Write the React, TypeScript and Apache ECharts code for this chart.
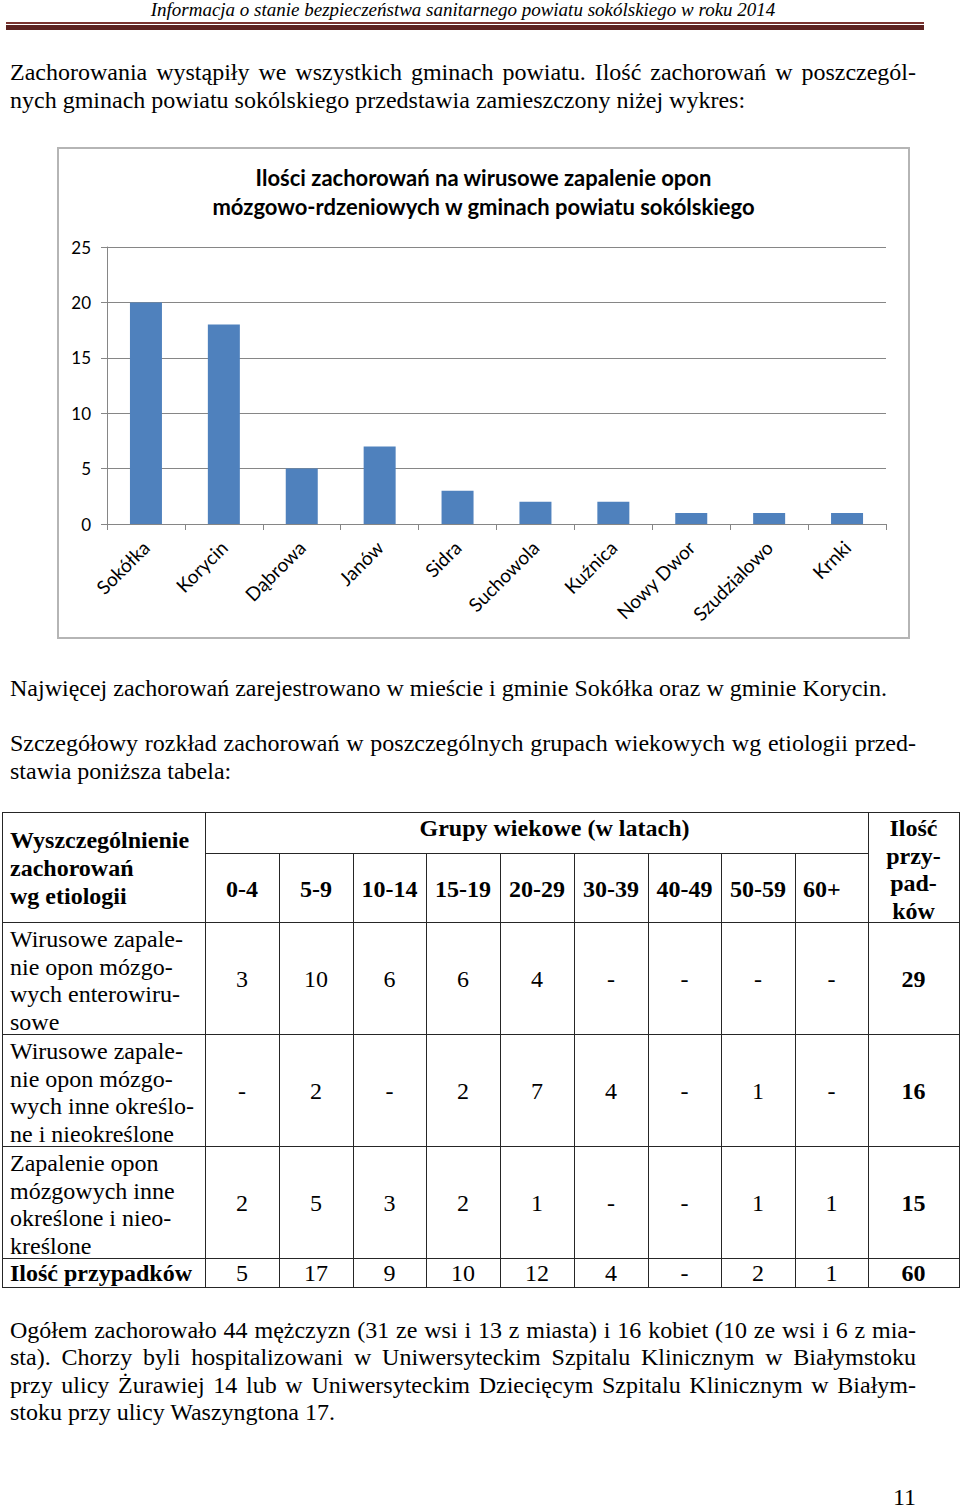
import React, { useEffect, useRef } from "react";
import * as echarts from "echarts";

// ---------- data ----------
const headerTitle = "Informacja o stanie bezpieczeństwa sanitarnego powiatu sokólskiego w roku 2014";

const chartTitleLines = [
  "Ilości zachorowań na wirusowe zapalenie opon",
  "mózgowo-rdzeniowych w gminach powiatu sokólskiego",
];
const communes = ["Sokółka", "Korycin", "Dąbrowa", "Janów", "Sidra", "Suchowola", "Kuźnica", "Nowy Dwor", "Szudzialowo", "Krnki"];
const caseCounts = [20, 18, 5, 7, 3, 2, 2, 1, 1, 1];
const yMin = 0;
const yMax = 25;
const yStep = 5;

const introLines = [
  "Zachorowania wystąpiły we wszystkich gminach powiatu. Ilość zachorowań w poszczegól-",
  "nych gminach powiatu sokólskiego przedstawia zamieszczony niżej wykres:",
];
const afterChartLine = "Najwięcej zachorowań zarejestrowano w mieście i gminie Sokółka oraz w gminie Korycin.";
const tableIntroLines = [
  "Szczegółowy rozkład zachorowań  w poszczególnych grupach wiekowych wg etiologii przed-",
  "stawia poniższa tabela:",
];
const closingLines = [
  "Ogółem zachorowało 44 mężczyzn (31 ze wsi i 13 z miasta) i 16 kobiet (10 ze wsi i 6 z mia-",
  "sta). Chorzy byli hospitalizowani w Uniwersyteckim Szpitalu Klinicznym w Białymstoku",
  "przy ulicy Żurawiej 14 lub w Uniwersyteckim Dziecięcym Szpitalu Klinicznym w Białym-",
  "stoku przy ulicy Waszyngtona 17.",
];
const pageNumber = "11";

const tableCornerLines = ["Wyszczególnienie", "zachorowań", "wg etiologii"];
const tableGroupHeader = "Grupy wiekowe (w latach)";
const tableTotalHeaderLines = ["Ilość", "przy-", "pad-", "ków"];
const ageGroups = ["0-4", "5-9", "10-14", "15-19", "20-29", "30-39", "40-49", "50-59", "60+"];
const etiologyLabels = [
  ["Wirusowe zapale-", "nie opon mózgo-", "wych enterowiru-", "sowe"],
  ["Wirusowe zapale-", "nie opon mózgo-", "wych inne określo-", "ne i nieokreślone"],
  ["Zapalenie opon", "mózgowych inne", "określone i nieo-", "kreślone"],
];
const enteroviralCases = ["3", "10", "6", "6", "4", "-", "-", "-", "-"];
const otherViralCases = ["-", "2", "-", "2", "7", "4", "-", "1", "-"];
const otherMeningitisCases = ["2", "5", "3", "2", "1", "-", "-", "1", "1"];
const rowTotals = ["29", "16", "15"];
const totalsLabel = "Ilość przypadków";
const columnTotals = ["5", "17", "9", "10", "12", "4", "-", "2", "1"];
const grandTotal = "60";

// ---------- layout ----------
const SERIF = '"Liberation Serif", "Times New Roman", serif';
const FS = 24;
const LINE = "#262626";
const colX = [2, 205, 279, 353, 426, 500, 574, 648, 721, 795, 868, 959];
const rowY = { top: 812, sub: 853, head: 922, r1: 1034, r2: 1146, r3: 1258, bottom: 1287 };

function TextLine(props: { y: number; text: string; justify?: boolean; x?: number; width?: number; size?: number; bold?: boolean }) {
  const { y, text, justify, x = 10, width = 906, size = FS, bold } = props;
  return (
    <div
      style={{
        position: "absolute",
        left: x,
        top: y - 14,
        width,
        height: 28,
        lineHeight: "28px",
        fontFamily: SERIF,
        fontSize: size,
        fontWeight: bold ? "bold" : "normal",
        color: "#000",
        textAlign: justify ? "justify" : "left",
        textAlignLast: justify ? "justify" : "auto",
        whiteSpace: justify ? "normal" : "nowrap",
        overflow: "visible",
      } as any}
    >
      {text}
    </div>
  );
}

function CellText(props: { x0: number; x1: number; y: number; text: string; bold?: boolean; align?: string; dx?: number }) {
  const { x0, x1, y, text, bold, align = "center", dx = 0 } = props;
  return (
    <div
      style={{
        position: "absolute",
        left: (align === "left" ? x0 + 8 : x0) + dx,
        top: y - 14,
        width: align === "left" ? x1 - x0 - 8 : x1 - x0,
        height: 28,
        lineHeight: "28px",
        fontFamily: SERIF,
        fontSize: FS,
        fontWeight: bold ? "bold" : "normal",
        textAlign: align as any,
        whiteSpace: "nowrap",
        color: "#000",
      }}
    >
      {text}
    </div>
  );
}

function HLine(props: { x0: number; x1: number; y: number }) {
  return <div style={{ position: "absolute", left: props.x0, top: props.y, width: props.x1 - props.x0 + 1, height: 1, background: LINE }} />;
}
function VLine(props: { x: number; y0: number; y1: number }) {
  return <div style={{ position: "absolute", left: props.x, top: props.y0, width: 1, height: props.y1 - props.y0 + 1, background: LINE }} />;
}

function Chart() {
  const ref = useRef<HTMLDivElement>(null);
  useEffect(() => {
    if (!ref.current) return;
    const chart = echarts.init(ref.current, undefined, { renderer: "svg" });
    const axisGrey = "#868686";
    chart.setOption({
      animation: false,
      backgroundColor: "#ffffff",
      title: {
        text: chartTitleLines.join("\n"),
        left: "center",
        top: 16,
        padding: 0,
        textStyle: { fontFamily: "Lato", fontWeight: "bold", fontSize: 22, lineHeight: 29, color: "#000" },
      },
      grid: { left: 50, right: 24, top: 100, bottom: 115 },
      xAxis: {
        type: "category",
        data: communes,
        axisLine: { show: true, lineStyle: { color: axisGrey, width: 1 } },
        axisTick: { show: true, length: 6, interval: 0, alignWithLabel: false, lineStyle: { color: axisGrey } },
        axisLabel: {
          interval: 0,
          rotate: 45,
          margin: 20,
          fontFamily: "Lato",
          fontSize: 19,
          color: "#000",
        },
        splitLine: { show: false },
      },
      yAxis: {
        type: "value",
        min: yMin,
        max: yMax,
        interval: yStep,
        axisLine: { show: true, lineStyle: { color: axisGrey, width: 1 } },
        axisTick: { show: true, length: 6, lineStyle: { color: axisGrey } },
        axisLabel: { margin: 16, fontFamily: "Lato", fontSize: 17, color: "#000" },
        splitLine: { show: true, lineStyle: { color: axisGrey, width: 1 } },
      },
      series: [
        {
          type: "bar",
          data: caseCounts,
          barWidth: 32,
          itemStyle: { color: "#4f81bd" },
        },
      ],
      graphic: [
        {
          type: "rect",
          shape: { x: 1, y: 1, width: 851, height: 490 },
          style: { fill: "none", stroke: "#b5b5b5", lineWidth: 2 },
          silent: true,
        },
      ],
    });
    return () => chart.dispose();
  }, []);
  return <div ref={ref} style={{ position: "absolute", left: 57, top: 147, width: 853, height: 492 }} />;
}

export default function App() {
  const dataRows = [enteroviralCases, otherViralCases, otherMeningitisCases];
  const rowBounds = [
    [rowY.head, rowY.r1],
    [rowY.r1, rowY.r2],
    [rowY.r2, rowY.r3],
  ];
  return (
    <div style={{ position: "absolute", left: 0, top: 0, width: 960, height: 1509, background: "#fff", overflow: "hidden" }}>
      {/* page header */}
      <div
        style={{
          position: "absolute",
          left: 0,
          top: 0,
          width: 926,
          textAlign: "center",
          fontFamily: SERIF,
          fontStyle: "italic",
          fontSize: 19,
          lineHeight: "20px",
          color: "#000",
          whiteSpace: "nowrap",
        }}
      >
        {headerTitle}
      </div>
      <div style={{ position: "absolute", left: 6, top: 22, width: 918, height: 2, background: "#7a3430" }} />
      <div style={{ position: "absolute", left: 6, top: 25, width: 918, height: 5, background: "#5c2320" }} />

      {/* intro */}
      <TextLine y={72} text={introLines[0]} justify />
      <TextLine y={100} text={introLines[1]} />

      <Chart />

      <TextLine y={688} text={afterChartLine} />
      <TextLine y={743} text={tableIntroLines[0]} justify />
      <TextLine y={771} text={tableIntroLines[1]} />

      {/* table grid */}
      <HLine x0={colX[0]} x1={colX[11]} y={rowY.top} />
      <HLine x0={colX[1]} x1={colX[10]} y={rowY.sub} />
      <HLine x0={colX[0]} x1={colX[11]} y={rowY.head} />
      <HLine x0={colX[0]} x1={colX[11]} y={rowY.r1} />
      <HLine x0={colX[0]} x1={colX[11]} y={rowY.r2} />
      <HLine x0={colX[0]} x1={colX[11]} y={rowY.r3} />
      <HLine x0={colX[0]} x1={colX[11]} y={rowY.bottom} />
      {colX.map((x, i) =>
        i === 0 || i === 1 || i === 10 || i === 11 ? (
          <VLine key={"v" + i} x={x} y0={rowY.top} y1={rowY.bottom} />
        ) : (
          <VLine key={"v" + i} x={x} y0={rowY.sub} y1={rowY.bottom} />
        )
      )}

      {/* table header */}
      {tableCornerLines.map((t, i) => (
        <CellText key={"c" + i} x0={colX[0]} x1={colX[1]} y={840 + i * 28} text={t} bold align="left" />
      ))}
      <CellText x0={colX[1]} x1={colX[10]} y={828} text={tableGroupHeader} bold dx={18} />
      {ageGroups.map((g, i) => (
        <CellText key={"g" + i} x0={colX[i + 1]} x1={colX[i + 2]} y={889} text={g} bold align={i === 8 ? "left" : "center"} />
      ))}
      {tableTotalHeaderLines.map((t, i) => (
        <CellText key={"t" + i} x0={colX[10]} x1={colX[11]} y={828 + i * 27.5} text={t} bold />
      ))}

      {/* table body */}
      {dataRows.map((vals, r) => {
        const [y0, y1] = rowBounds[r];
        const mid = (y0 + y1) / 2 + 1;
        return (
          <React.Fragment key={"r" + r}>
            {etiologyLabels[r].map((t, i) => (
              <CellText key={"l" + i} x0={colX[0]} x1={colX[1]} y={y0 + 17 + i * 27.5} text={t} align="left" />
            ))}
            {vals.map((v, i) => (
              <CellText key={"d" + i} x0={colX[i + 1]} x1={colX[i + 2]} y={mid} text={v} />
            ))}
            <CellText x0={colX[10]} x1={colX[11]} y={mid} text={rowTotals[r]} bold />
          </React.Fragment>
        );
      })}
      <CellText x0={colX[0]} x1={colX[1]} y={1273} text={totalsLabel} bold align="left" />
      {columnTotals.map((v, i) => (
        <CellText key={"ct" + i} x0={colX[i + 1]} x1={colX[i + 2]} y={1273} text={v} />
      ))}
      <CellText x0={colX[10]} x1={colX[11]} y={1273} text={grandTotal} bold />

      {/* closing paragraph */}
      <TextLine y={1330} text={closingLines[0]} justify />
      <TextLine y={1357} text={closingLines[1]} justify />
      <TextLine y={1385} text={closingLines[2]} justify />
      <TextLine y={1412} text={closingLines[3]} />

      <TextLine y={1497} x={893} width={40} text={pageNumber} />
    </div>
  );
}
